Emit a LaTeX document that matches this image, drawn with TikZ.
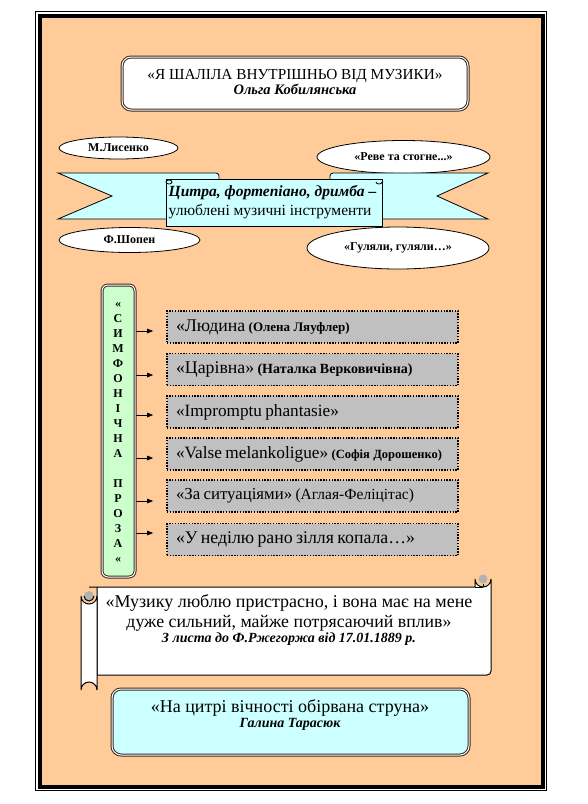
\documentclass[tikz,border=0pt]{standalone}
\usepackage{fontspec}
\setmainfont{Liberation Serif}
\usetikzlibrary{arrows.meta,shapes.geometric,calc}
\definecolor{peach}{HTML}{FFCC99}
\definecolor{lcyan}{HTML}{CCFFFF}
\definecolor{lgreen}{HTML}{CCFFCC}
\definecolor{greybox}{HTML}{C0C0C0}
\definecolor{bord}{HTML}{3A2A20}
\newcommand{\fs}[1]{\fontsize{#1}{#1}\selectfont}
\tikzset{
  dbox/.style={draw=bord, double=white, double distance=1pt, line width=1pt, rounded corners=9pt},
  oval/.style={ellipse, draw=black, line width=0.8pt, fill=white, inner sep=0pt, font=\fontsize{12}{12}\selectfont\bfseries},
  greyitem/.style={draw=black, line width=1.6pt, dash pattern=on 1.4pt off 1.4pt, fill=greybox,
     minimum width=291pt, minimum height=32pt, text width=273pt, inner xsep=9pt, align=left, anchor=center},
  arr/.style={-{Triangle[length=6pt,width=4.5pt]}, line width=0.8pt},
  outline/.style={draw=black, line width=0.8pt}
}
\begin{document}
\begin{tikzpicture}[x=1pt,y=-1pt]
\useasboundingbox (0,0) rectangle (587,804);
\fill[white] (0,0) rectangle (587,804);
% frame
\draw[line width=0.8pt] (35.5,11.5) rectangle (546,790);
\draw[line width=4pt, fill=peach] (39.5,16) rectangle (542.5,786.5);

% title
\node[dbox, fill=white, minimum width=346pt, minimum height=53pt] (title) at (295,83.5) {};
\node[align=center, inner sep=0pt] (titletext) at (295,82) {\fs{15.3}«Я ШАЛІЛА ВНУТРІШНЬО ВІД МУЗИКИ»\\[1pt]\fs{14.5}\bfseries\itshape Ольга Кобилянська};

% ellipses
\node[oval, minimum width=119pt, minimum height=22pt] (lys) at (118.5,148) {М.Лисенко};
\node[oval, minimum width=173pt, minimum height=33pt] (reve) at (403.5,157) {«Реве та стогне...»};
\node[oval, minimum width=141pt, minimum height=25pt] (chop) at (129.5,240) {Ф.Шопен};
\node[oval, minimum width=182pt, minimum height=42pt] (hul) at (398,248) {«Гуляли, гуляли…»};

% ribbon
\draw[outline, fill=lcyan] (58,173) -- (216,173) arc(-90:0:3) -- (219,219) -- (58,219) -- (112,196) -- cycle;
\draw[outline, fill=lcyan] (488,173) -- (333,173) arc(270:180:3) -- (330,219) -- (488,219) -- (437,196) -- cycle;
\node[outline, fill=lcyan, minimum width=216pt, minimum height=47pt, inner sep=0pt] (panel) at (274,202.5) {};
\draw[outline, fill=lcyan] (166,182) arc(180:0:3 and 2) arc(0:-180:3 and 2);
\draw[outline] (382,182) arc(0:180:3 and 2);
\node[align=left, anchor=west, inner sep=0pt] (paneltext) at (168.5,202) {\fs{15.5}\bfseries\itshape Цитра, фортепіано, дримба –\\[3pt]\fs{15.5}улюблені музичні інструменти};

% green vertical
\node[dbox, fill=lgreen, rounded corners=6pt, minimum width=33pt, minimum height=292pt] (sym) at (118.5,431) {};
\node[align=center, inner sep=0pt, font=\fontsize{12}{15}\selectfont\bfseries] (symtext) at (118,432) {«\\С\\И\\М\\Ф\\О\\Н\\І\\Ч\\Н\\А\\~\\П\\Р\\О\\З\\А\\«};

% grey items
\node[greyitem] (b1) at (312.5,327) {\fs{17.8}«Людина \fs{13}\bfseries(Олена Ляуфлер)};
\node[greyitem] (b2) at (312.5,369.5) {\fs{17.8}«Царівна» \fs{14}\bfseries(Наталка Верковичівна)};
\node[greyitem] (b3) at (312.5,412) {\fs{17.2}«Impromptu phantasie»};
\node[greyitem] (b4) at (312.5,454) {\fs{17.3}«Valse melankoligue» \fs{12.5}\bfseries(Софія Дорошенко)};
\node[greyitem] (b5) at (312.5,496) {\fs{16.8}«За ситуаціями» \fs{15.5}(Аглая-Феліцітас)};
\node[greyitem] (b6) at (312.5,539.5) {\fs{17.8}«У неділю рано зілля копала…»};

\foreach \b/\dy in {b1/-4, b2/-5.5, b3/-3, b4/-4, b5/-5, b6/6.5}{
  \draw[arr] ([yshift=\dy pt]\b.west -| sym.east) -- ([yshift=\dy pt, xshift=-13pt]\b.west);
}

% scroll
\draw[outline, line width=1pt, fill=white]
  (89,587) -- (475,587) -- (475,579) arc(180:0:8) -- (491,671) arc(0:90:4) -- (97,675) -- (97,587) -- cycle;
\fill[gray!60] (483,579) circle (4.5);
\draw[line width=1pt] (483,583.5) -- (483,587) (475,587) -- (483,587);
\draw[outline, line width=1pt, fill=white] (81,596) arc(180:0:8) -- (97,690) arc(0:-180:8) -- cycle;
\fill[gray!60] (89,596) circle (5);
\draw[line width=1pt] (84,596) arc(180:0:5);
\node[align=center, inner sep=0pt] (quote) at (289,620) {\fs{18}«Музику люблю пристрасно, і вона має на мене\\[3pt]\fs{17.8}дуже сильний, майже потрясаючий вплив»\\[1pt]\fs{14}\bfseries\itshape З листа до Ф.Ржегоржа від 17.01.1889 р.};

% bottom box
\node[dbox, fill=lcyan, minimum width=357pt, minimum height=66pt] (bottom) at (290.5,722) {};
\node[align=center, inner sep=0pt] (bottomtext) at (290,715) {\fs{18}«На цитрі вічності обірвана струна»\\[1pt]\fs{14}\bfseries\itshape Галина Тарасюк};
\end{tikzpicture}
\end{document}
